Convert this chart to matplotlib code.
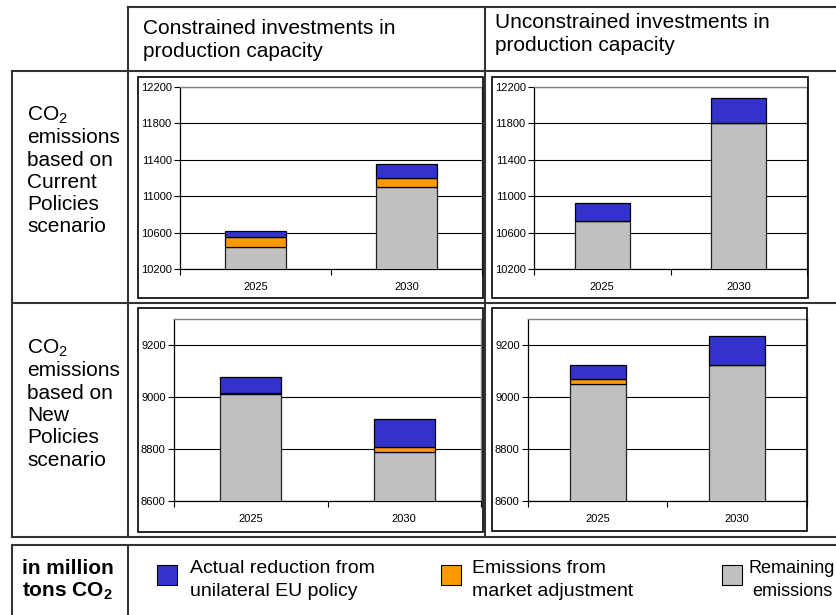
import matplotlib
matplotlib.use('Agg')
import matplotlib.pyplot as plt
from matplotlib.patches import Rectangle
from matplotlib.lines import Line2D

plt.rcParams['font.family'] = ['Liberation Sans', 'DejaVu Sans']
plt.rcParams['mathtext.default'] = 'regular'

W, H = 837, 615

categories = ['2025', '2030']

# million tons CO2
remaining_cur_con = [10440, 11100]
market_cur_con = [110, 100]
reduction_cur_con = [70, 150]

remaining_cur_unc = [10730, 11800]
market_cur_unc = [0, 0]
reduction_cur_unc = [200, 280]

remaining_new_con = [9010, 8787]
market_new_con = [4, 22]
reduction_new_con = [64, 105]

remaining_new_unc = [9051, 9124]
market_new_unc = [17, 0]
reduction_new_unc = [54, 109]

ylim_current = (10200, 12200)
yticks_current = [10200, 10600, 11000, 11400, 11800, 12200]
ylim_new = (8600, 9300)
yticks_new = [8600, 8800, 9000, 9200]

col_headers = [['Constrained investments in', 'production capacity'],
               ['Unconstrained investments in', 'production capacity']]
row_headers = [['CO$_2$', 'emissions', 'based on', 'Current', 'Policies', 'scenario'],
               ['CO$_2$', 'emissions', 'based on', 'New', 'Policies', 'scenario']]
legend_labels = [['Actual reduction from', 'unilateral EU policy'],
                 ['Emissions from', 'market adjustment'],
                 ['Remaining', 'emissions']]
unit_label = ['in million', 'tons CO$_2$']

c_red = '#3333CC'
c_mkt = '#FF9900'
c_rem = '#C0C0C0'


def fx(x):
    return x / W


def fy(y):
    return 1 - y / H


def hline(fig, y, x0, x1, lw=1.5, color='#333333'):
    fig.add_artist(Line2D([fx(x0), fx(x1)], [fy(y), fy(y)], lw=lw, color=color))


def vline(fig, x, y0, y1, lw=1.5, color='#333333'):
    fig.add_artist(Line2D([fx(x), fx(x)], [fy(y0), fy(y1)], lw=lw, color=color))


def frame(fig, x0, y0, x1, y1):
    fig.add_artist(Rectangle((fx(x0), fy(y1)), fx(x1) - fx(x0), fy(y0) - fy(y1),
                             fill=False, lw=1.2, ec='black'))


def lines_text(fig, x, y0, pitch, lines, ha='left', **kw):
    for i, line in enumerate(lines):
        fig.text(fx(x), fy(y0 + i * pitch), line, va='baseline', ha=ha, **kw)


def panel(fig, box, remaining, market, reduction, ylim, yticks):
    x0, y0, x1, y1 = box
    ax = fig.add_axes([fx(x0), fy(y1), fx(x1) - fx(x0), fy(y0) - fy(y1)])
    pos = list(range(len(categories)))
    bot2 = [r + m for r, m in zip(remaining, market)]
    ax.bar(pos, remaining, width=0.4, color=c_rem, edgecolor='#222222', lw=0.9, zorder=3)
    ax.bar(pos, market, width=0.4, bottom=remaining, color=c_mkt, edgecolor='black', lw=0.9, zorder=3)
    ax.bar(pos, reduction, width=0.4, bottom=bot2, color=c_red, edgecolor='black', lw=0.9, zorder=3)
    ax.set_ylim(*ylim)
    ax.set_xlim(-0.5, len(categories) - 0.5)
    ax.set_yticks(yticks)
    ax.set_yticklabels([str(t) for t in yticks], fontsize=8)
    ax.set_xticks(pos)
    ax.set_xticklabels(categories, fontsize=8)
    ax.tick_params(axis='x', length=0, pad=9)
    ax.set_xticks([p - 0.5 for p in pos] + [pos[-1] + 0.5], minor=True)
    ax.tick_params(axis='x', which='minor', length=4, width=0.8)
    ax.tick_params(axis='y', length=4, width=0.8, pad=2)
    ax.grid(axis='y', color='black', lw=0.8, zorder=0)
    ax.set_axisbelow(True)
    for s in ['left', 'bottom']:
        ax.spines[s].set_linewidth(0.9)
    for s in ['top', 'right']:
        ax.spines[s].set_color('#808080')
        ax.spines[s].set_linewidth(1.0)
    ax.patch.set_alpha(0)
    return ax


fig = plt.figure(figsize=(W / 100, H / 100), dpi=100)

# table grid
hline(fig, 7, 128, 837)
hline(fig, 71, 12, 837)
hline(fig, 303, 12, 837)
hline(fig, 537, 12, 837)
vline(fig, 12, 71, 537)
vline(fig, 128, 7, 537)
vline(fig, 485, 7, 537)
hline(fig, 545, 12, 837)
vline(fig, 12, 545, 615)
vline(fig, 128, 545, 615)

# headers
lines_text(fig, 143, 34, 23, col_headers[0], fontsize=15)
lines_text(fig, 495, 28, 23, col_headers[1], fontsize=15)
lines_text(fig, 27, 121, 22.3, row_headers[0], fontsize=15)
lines_text(fig, 27, 354, 22.3, row_headers[1], fontsize=15)

# chart frames and plot areas
frame(fig, 138, 77, 483, 298)
frame(fig, 492, 77, 808, 298)
frame(fig, 138, 308, 483, 532)
frame(fig, 492, 308, 807, 531)

panel(fig, (180, 87, 482, 269), remaining_cur_con, market_cur_con, reduction_cur_con,
      ylim_current, yticks_current)
panel(fig, (534, 87, 807, 269), remaining_cur_unc, market_cur_unc, reduction_cur_unc,
      ylim_current, yticks_current)
panel(fig, (174, 319, 481, 501), remaining_new_con, market_new_con, reduction_new_con,
      ylim_new, yticks_new)
panel(fig, (528, 319, 807, 501), remaining_new_unc, market_new_unc, reduction_new_unc,
      ylim_new, yticks_new)

# legend row
lines_text(fig, 22, 574, 23, unit_label, fontsize=15, fontweight='bold')
leg_colors = [c_red, c_mkt, c_rem]
sq_x = [157, 441, 722]
txt_x = [190, 472, 792]
txt_ha = ['left', 'left', 'center']
for col, sx, tx, ha, lab in zip(leg_colors, sq_x, txt_x, txt_ha, legend_labels):
    fig.add_artist(Rectangle((fx(sx), fy(585)), fx(20), 20 / H, fc=col, ec='black', lw=0.8))
    lines_text(fig, tx, 573, 23, lab, ha=ha, fontsize=14 if ha == 'left' else 13)

fig.savefig('out.png', dpi=100)
